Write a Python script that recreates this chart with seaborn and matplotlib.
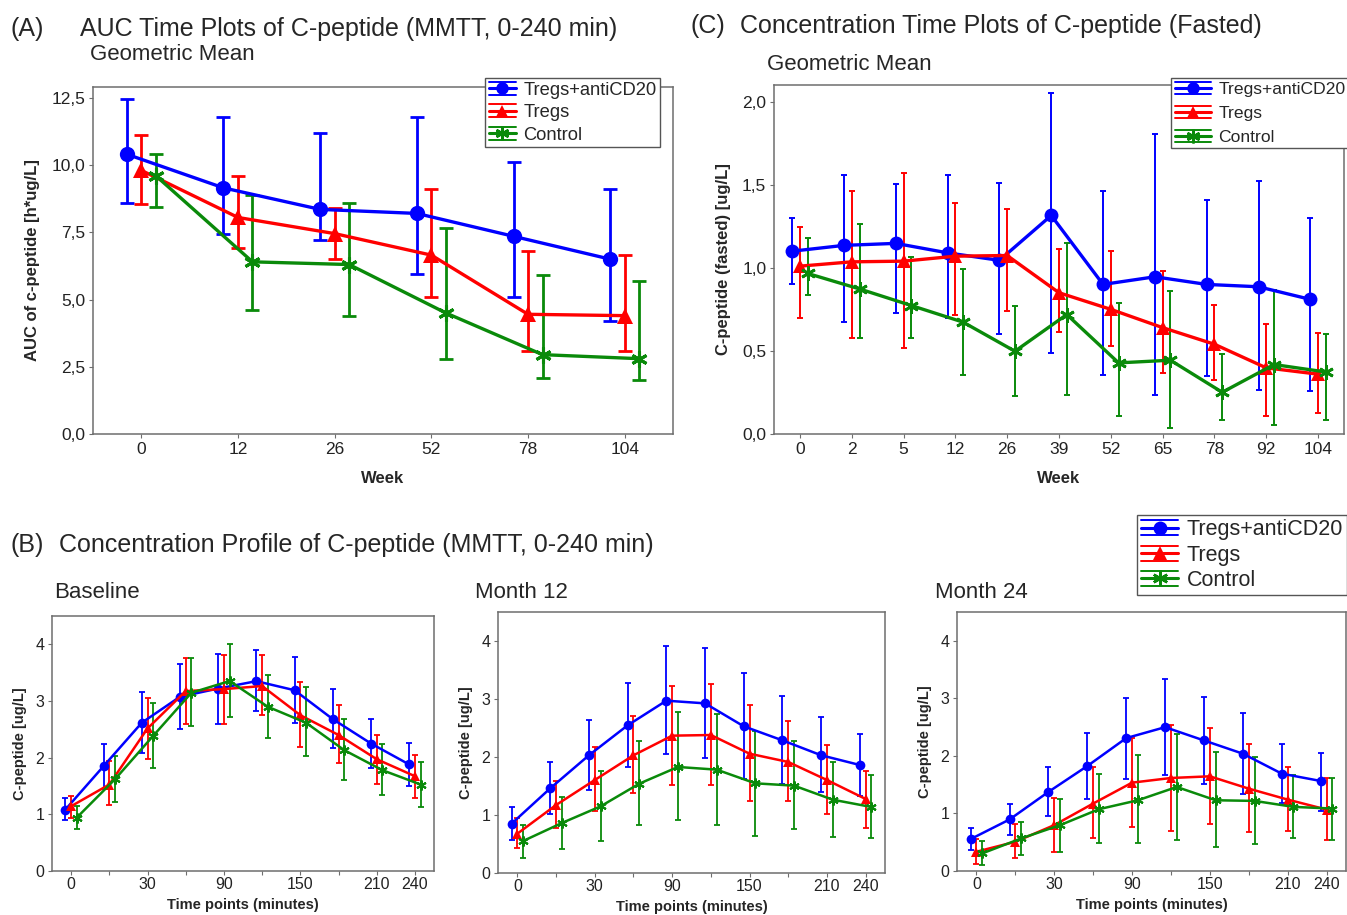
import numpy as np
import pandas as pd
import matplotlib
matplotlib.use("Agg")
import matplotlib.pyplot as plt
from matplotlib.lines import Line2D
from matplotlib.legend_handler import HandlerBase
from matplotlib.ticker import FuncFormatter, FixedLocator
import seaborn as sns

# ---------------- DATA ----------------
groups = ["Tregs+antiCD20", "Tregs", "Control"]

# Panel A: AUC (MMTT 0-240 min), geometric mean with error bars
weeks_A = ["0", "12", "26", "52", "78", "104"]
auc_blue = [10.4, 9.15, 8.35, 8.2, 7.35, 6.5]
auc_blue_lo = [8.6, 7.45, 7.2, 5.95, 5.1, 4.2]
auc_blue_hi = [12.45, 11.8, 11.2, 11.8, 10.1, 9.1]
auc_red = [9.8, 8.05, 7.45, 6.65, 4.45, 4.4]
auc_red_lo = [8.55, 6.9, 6.5, 5.1, 3.1, 3.1]
auc_red_hi = [11.1, 9.6, 8.4, 9.1, 6.8, 6.65]
auc_green = [9.6, 6.4, 6.3, 4.5, 2.95, 2.8]
auc_green_lo = [8.45, 4.6, 4.4, 2.8, 2.1, 2.0]
auc_green_hi = [10.4, 8.9, 8.6, 7.65, 5.9, 5.7]

# Panel C: fasted C-peptide
weeks_C = ["0", "2", "5", "12", "26", "39", "52", "65", "78", "92", "104"]
fast_blue = [1.10, 1.135, 1.147, 1.09, 1.045, 1.315, 0.90, 0.946, 0.90, 0.886, 0.81]
fast_blue_lo = [0.90, 0.675, 0.73, 0.70, 0.60, 0.49, 0.355, 0.233, 0.347, 0.267, 0.257]
fast_blue_hi = [1.297, 1.556, 1.502, 1.556, 1.512, 2.05, 1.462, 1.803, 1.406, 1.522, 1.301]
fast_red = [1.01, 1.036, 1.04, 1.07, 1.074, 0.85, 0.75, 0.64, 0.54, 0.398, 0.36]
fast_red_lo = [0.695, 0.578, 0.518, 0.719, 0.739, 0.612, 0.528, 0.367, 0.327, 0.106, 0.127]
fast_red_hi = [1.245, 1.462, 1.572, 1.392, 1.355, 1.114, 1.10, 0.98, 0.779, 0.663, 0.608]
fast_green = [0.966, 0.873, 0.773, 0.673, 0.498, 0.719, 0.428, 0.444, 0.251, 0.418, 0.373]
fast_green_lo = [0.835, 0.578, 0.578, 0.353, 0.227, 0.233, 0.106, 0.036, 0.086, 0.056, 0.086]
fast_green_hi = [1.177, 1.261, 1.064, 0.994, 0.773, 1.151, 0.789, 0.859, 0.484, 0.869, 0.602]

# Panel B: concentration profiles (MMTT)
time_points = [0, 15, 30, 60, 90, 120, 150, 180, 210, 240]
time_labels = ["0", "", "30", "", "90", "", "150", "", "210", "240"]

base_blue = [1.084, 1.85, 2.616, 3.075, 3.22, 3.35, 3.19, 2.68, 2.25, 1.88]
base_blue_lo = [0.907, 1.455, 2.09, 2.51, 2.60, 2.83, 2.615, 2.174, 1.82, 1.502]
base_blue_hi = [1.29, 2.24, 3.163, 3.65, 3.83, 3.90, 3.77, 3.205, 2.675, 2.262]
base_red = [1.143, 1.526, 2.515, 3.175, 3.21, 3.264, 2.75, 2.40, 1.973, 1.673]
base_red_lo = [0.943, 1.172, 1.973, 2.60, 2.59, 2.75, 2.19, 1.90, 1.543, 1.29]
base_red_hi = [1.32, 1.944, 3.057, 3.764, 3.81, 3.81, 3.33, 2.93, 2.40, 2.044]
base_green = [0.943, 1.62, 2.386, 3.146, 3.352, 2.898, 2.616, 2.133, 1.779, 1.526]
base_green_lo = [0.748, 1.214, 1.826, 2.563, 2.72, 2.35, 2.027, 1.60, 1.337, 1.131]
base_green_hi = [1.149, 2.027, 2.957, 3.764, 4.0, 3.458, 3.24, 2.675, 2.233, 1.915]

m12_blue = [0.85, 1.46, 2.03, 2.546, 2.971, 2.925, 2.529, 2.287, 2.03, 1.862]
m12_blue_lo = [0.563, 1.017, 1.437, 1.822, 2.046, 1.983, 1.626, 1.54, 1.39, 1.32]
m12_blue_hi = [1.138, 1.914, 2.632, 3.276, 3.908, 3.885, 3.448, 3.046, 2.69, 2.402]
m12_red = [0.678, 1.172, 1.603, 2.029, 2.368, 2.379, 2.057, 1.914, 1.603, 1.276]
m12_red_lo = [0.425, 0.782, 1.075, 1.379, 1.523, 1.523, 1.247, 1.247, 1.017, 0.776]
m12_red_hi = [0.943, 1.592, 2.167, 2.70, 3.224, 3.259, 2.89, 2.621, 2.20, 1.764]
m12_green = [0.552, 0.862, 1.149, 1.54, 1.828, 1.782, 1.546, 1.506, 1.264, 1.138]
m12_green_lo = [0.259, 0.414, 0.557, 0.822, 0.92, 0.822, 0.644, 0.759, 0.615, 0.603]
m12_green_hi = [0.833, 1.305, 1.753, 2.276, 2.776, 2.736, 2.454, 2.27, 1.914, 1.684]

m24_blue = [0.554, 0.895, 1.374, 1.824, 2.309, 2.499, 2.268, 2.038, 1.691, 1.564]
m24_blue_lo = [0.364, 0.623, 0.952, 1.258, 1.605, 1.662, 1.506, 1.333, 1.189, 1.045]
m24_blue_hi = [0.739, 1.16, 1.807, 2.401, 3.007, 3.336, 3.019, 2.742, 2.199, 2.055]
m24_red = [0.335, 0.508, 0.797, 1.172, 1.535, 1.616, 1.645, 1.431, 1.241, 1.068]
m24_red_lo = [0.121, 0.219, 0.335, 0.566, 0.768, 0.698, 0.825, 0.681, 0.693, 0.537]
m24_red_hi = [0.548, 0.808, 1.276, 1.807, 2.315, 2.528, 2.488, 2.211, 1.807, 1.616]
m24_green = [0.306, 0.566, 0.797, 1.074, 1.229, 1.46, 1.229, 1.218, 1.114, 1.085]
m24_green_lo = [0.104, 0.277, 0.323, 0.479, 0.479, 0.537, 0.41, 0.468, 0.566, 0.537]
m24_green_hi = [0.519, 0.854, 1.258, 1.691, 2.009, 2.384, 2.066, 1.98, 1.674, 1.616]

# ---------------- STYLE ----------------
sns.set_theme(style="white")
plt.rcParams["font.family"] = ["Liberation Sans", "DejaVu Sans"]
plt.rcParams["axes.edgecolor"] = "#6e6e6e"
plt.rcParams["axes.linewidth"] = 1.1

palette = {"Tregs+antiCD20": "#0000FF", "Tregs": "#FF0000", "Control": "#0A8A0A"}
markers = {"Tregs+antiCD20": "o", "Tregs": "^", "Control": (6, 2, 0)}
offsets = {"Tregs+antiCD20": -0.15, "Tregs": 0.0, "Control": 0.15}

W, H = 1347, 915
fig = plt.figure(figsize=(W / 100, H / 100), dpi=100)


def ax_px(l, t, r, b):
    return fig.add_axes([l / W, 1 - b / H, (r - l) / W, (b - t) / H])


comma = FuncFormatter(lambda v, p: f"{v:.1f}".replace(".", ","))


def draw_panel(ax, cats, series, msize, lw, capsize, elw, mew_star):
    for g, (m, lo, hi) in zip(groups, series):
        df = pd.DataFrame({"pos": np.arange(len(cats)) + offsets[g],
                           "value": m, "lo": lo, "hi": hi})
        ax.errorbar(df["pos"], df["value"],
                    yerr=[df["value"] - df["lo"], df["hi"] - df["value"]],
                    fmt="none", ecolor=palette[g], elinewidth=elw, capsize=capsize,
                    capthick=elw, zorder=2)
        star = g == "Control"
        sns.lineplot(data=df, x="pos", y="value", color=palette[g], marker=markers[g],
                     markersize=msize * (1.05 if star else 1.0), linewidth=lw,
                     markeredgewidth=mew_star if star else 0,
                     markeredgecolor=palette[g], ax=ax, zorder=3,
                     estimator=None, legend=False)
    ax.set_xlabel("")
    ax.set_ylabel("")


class HandlerStat(HandlerBase):
    def __init__(self, color, marker, ms, mew):
        super().__init__()
        self.color, self.marker, self.ms, self.mew = color, marker, ms, mew

    def create_artists(self, legend, orig_handle, xdescent, ydescent, width, height, fontsize, trans):
        y = height / 2 - ydescent
        arts = []
        for yy, lw in ((y + height * 0.5, 1.4), (y, 2.2), (y - height * 0.5, 1.4)):
            arts.append(Line2D([-xdescent, -xdescent + width], [yy, yy], color=self.color, lw=lw, transform=trans))
        arts.append(Line2D([-xdescent + width / 2], [y], marker=self.marker, color=self.color,
                           markersize=self.ms, markeredgewidth=self.mew, markeredgecolor=self.color,
                           linestyle="none", transform=trans))
        return arts


def add_legend(anchor_px, fontsize, ms, handlelength, labelspacing):
    handles = [Line2D([], [], color=palette[g]) for g in groups]
    hm = {h: HandlerStat(palette[g], markers[g], ms if g != "Control" else ms * 1.1,
                         0 if g != "Control" else 1.8) for h, g in zip(handles, groups)}
    leg = fig.legend(handles, groups, handler_map=hm, loc="upper left",
                     bbox_to_anchor=(anchor_px[0] / W, 1 - anchor_px[1] / H),
                     frameon=True, fancybox=False, framealpha=1, edgecolor="#555555",
                     fontsize=fontsize, handlelength=handlelength, handletextpad=0.4,
                     borderpad=0.2, labelspacing=labelspacing, borderaxespad=0)
    leg.get_frame().set_linewidth(1.0)
    return leg


def style_ticks(ax):
    ax.tick_params(axis="both", which="both", direction="out", length=3, width=0.8,
                   colors="#6e6e6e", labelcolor="#222222", bottom=True, left=True, pad=2.5)
    ax.tick_params(axis="both", which="minor", length=3)


# ---------------- Panel A ----------------
axA = ax_px(93, 87, 673, 434)
draw_panel(axA, weeks_A,
           [(auc_blue, auc_blue_lo, auc_blue_hi), (auc_red, auc_red_lo, auc_red_hi),
            (auc_green, auc_green_lo, auc_green_hi)],
           msize=11, lw=2.4, capsize=5, elw=2.0, mew_star=2.2)
axA.set_xlim(-0.5, len(weeks_A) - 0.5)
axA.set_ylim(0, 12.9)
axA.set_xticks(range(len(weeks_A)))
axA.set_xticklabels(weeks_A)
axA.set_yticks([0, 2.5, 5, 7.5, 10, 12.5])
axA.yaxis.set_major_formatter(comma)
style_ticks(axA)
axA.tick_params(labelsize=12.5)
axA.set_xlabel("Week", fontsize=12, fontweight="bold", labelpad=10)
axA.set_ylabel("AUC of c-peptide [h*ug/L]", fontsize=12, fontweight="bold", labelpad=8)

fig.text(10 / W, 1 - 29 / H, "(A)", fontsize=18, va="center", ha="left")
fig.text(80 / W, 1 - 29 / H, "AUC Time Plots of C-peptide (MMTT, 0-240 min)", fontsize=18, va="center", ha="left")
fig.text(90 / W, 1 - 55 / H, "Geometric Mean", fontsize=16, va="center", ha="left")
add_legend((485, 78), 13.2, 9, 1.5, 0.3)

# ---------------- Panel C ----------------
axC = ax_px(774, 85, 1344, 434)
draw_panel(axC, weeks_C,
           [(fast_blue, fast_blue_lo, fast_blue_hi), (fast_red, fast_red_lo, fast_red_hi),
            (fast_green, fast_green_lo, fast_green_hi)],
           msize=10, lw=2.4, capsize=2, elw=1.4, mew_star=2.0)
axC.set_xlim(-0.5, len(weeks_C) - 0.5)
axC.set_ylim(0, 2.1)
axC.set_xticks(range(len(weeks_C)))
axC.set_xticklabels(weeks_C)
axC.set_yticks([0, 0.5, 1.0, 1.5, 2.0])
axC.yaxis.set_major_formatter(comma)
style_ticks(axC)
axC.tick_params(labelsize=12.5)
axC.set_xlabel("Week", fontsize=12, fontweight="bold", labelpad=10)
axC.set_ylabel("C-peptide (fasted) [ug/L]", fontsize=12, fontweight="bold", labelpad=8)

fig.text(691 / W, 1 - 26 / H, "(C)", fontsize=18, va="center", ha="left")
fig.text(740 / W, 1 - 26 / H, "Concentration Time Plots of C-peptide (Fasted)", fontsize=18, va="center", ha="left")
fig.text(767 / W, 1 - 64 / H, "Geometric Mean", fontsize=16, va="center", ha="left")
add_legend((1171, 78), 12.6, 9, 2.1, 0.5)

# ---------------- Panel B ----------------
fig.text(10 / W, 1 - 545 / H, "(B)", fontsize=18, va="center", ha="left")
fig.text(59 / W, 1 - 545 / H, "Concentration Profile of C-peptide (MMTT, 0-240 min)", fontsize=18, va="center", ha="left")

b_panels = [
    ((52, 616, 434, 871), "Baseline", 54,
     [(base_blue, base_blue_lo, base_blue_hi), (base_red, base_red_lo, base_red_hi),
      (base_green, base_green_lo, base_green_hi)]),
    ((498, 612, 885, 873), "Month 12", 475,
     [(m12_blue, m12_blue_lo, m12_blue_hi), (m12_red, m12_red_lo, m12_red_hi),
      (m12_green, m12_green_lo, m12_green_hi)]),
    ((957, 612, 1346, 871), "Month 24", 935,
     [(m24_blue, m24_blue_lo, m24_blue_hi), (m24_red, m24_red_lo, m24_red_hi),
      (m24_green, m24_green_lo, m24_green_hi)]),
]
for box, title, tx, series in b_panels:
    ax = ax_px(*box)
    draw_panel(ax, time_points, series, msize=7, lw=1.8, capsize=2, elw=1.3, mew_star=1.5)
    ax.set_xlim(-0.5, len(time_points) - 0.5)
    ax.set_ylim(0, 4.5)
    major = [i for i, l in enumerate(time_labels) if l]
    minor = [i for i, l in enumerate(time_labels) if not l]
    ax.xaxis.set_major_locator(FixedLocator(major))
    ax.xaxis.set_minor_locator(FixedLocator(minor))
    ax.set_xticklabels([time_labels[i] for i in major])
    ax.set_yticks([0, 1, 2, 3, 4])
    style_ticks(ax)
    ax.tick_params(labelsize=11.5)
    ax.tick_params(axis="x", pad=1.5)
    ax.set_xlabel("Time points (minutes)", fontsize=10.5, fontweight="bold", labelpad=4)
    ax.set_ylabel("C-peptide [ug/L]", fontsize=10.5, fontweight="bold", labelpad=6)
    fig.text(tx / W, 1 - 593 / H, title, fontsize=16, va="center", ha="left")

add_legend((1137, 515), 15.5, 10, 1.7, 0.2)

fig.savefig("out.png", dpi=100)
